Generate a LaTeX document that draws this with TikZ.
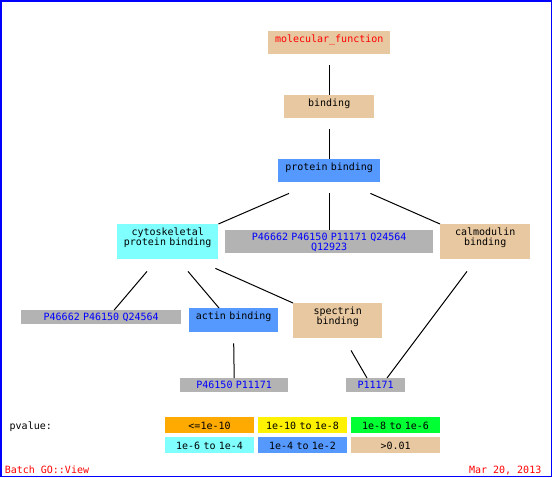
\documentclass[tikz,border=0pt]{standalone}
\usepackage{fontspec}
\setmainfont[WordSpace={1,0,0}]{DejaVu Sans Mono}
\definecolor{tanbox}{RGB}{232,200,160}
\definecolor{bluebox}{RGB}{85,153,255}
\definecolor{cyanbox}{RGB}{128,255,255}
\definecolor{graybox}{RGB}{179,179,179}
\definecolor{orangebox}{RGB}{255,170,0}
\definecolor{greenbox}{RGB}{0,255,51}
\definecolor{frameblue}{RGB}{0,0,255}
\tikzstyle{box} = [rectangle, anchor=north west, inner sep=0pt, align=center, font=\fontsize{10}{10}\selectfont, text height=11pt]
\tikzstyle{one} = [box, text depth=12pt]
\tikzstyle{two} = [box, text depth=24pt]
\tikzstyle{ids} = [box, fill=graybox, text=blue, text height=10.7pt, text depth=3.3pt]
\tikzstyle{key} = [box, text height=12.5pt, text depth=3.5pt, text width=88.7pt]
\tikzstyle{plain} = [inner sep=0pt, font=\fontsize{10}{10}\selectfont]
\tikzstyle{edge} = [line width=1pt]

\begin{document}
\begin{tikzpicture}[x=1pt, y=-1pt]
	
	\useasboundingbox (0,0) rectangle (552,477);
	\draw[frameblue, line width=1.5pt] (0.75,0.75) rectangle (551.25,476.25);
	
	\node[one, fill=tanbox, text=red, text width=122pt] (mf) at (268,31) {molecular\_function};
	\node[one, fill=tanbox, text width=90pt] (bind) at (284,95) {binding};
	\node[one, fill=bluebox, text width=102pt] (prot) at (278,159) {protein binding};
	\node[two, fill=cyanbox, text width=101pt] (cyto) at (117,224) {cytoskeletal\\protein binding};
	\node[ids, text depth=12.3pt, text width=208pt] (gprot) at (225,230) {P46662 P46150 P11171 Q24564\\Q12923};
	\node[two, fill=tanbox, text width=90pt] (calm) at (440,224) {calmodulin\\binding};
	\node[ids, text width=160pt] (gcyto) at (21,310) {P46662 P46150 Q24564};
	\node[one, fill=bluebox, text width=89pt, text depth=13pt] (actin) at (189,308) {actin binding};
	\node[two, fill=tanbox, text width=89pt] (spec) at (293,303) {spectrin\\binding};
	\node[ids, text width=108pt] (gactin) at (180,378) {P46150 P11171};
	\node[ids, text width=59pt] (gcalm) at (346,378) {P11171};
	
	\draw[edge] ([shift={(0,11)}]mf.south) -- (bind.north);
	\draw[edge] ([shift={(0,11)}]bind.south) -- (prot.north);
	\draw[edge] ([shift={(11,11)}]prot.south west) -- (cyto.north east);
	\draw[edge] ([shift={(0,11)}]prot.south) -- (gprot.north);
	\draw[edge] ([shift={(-10,11)}]prot.south east) -- (calm.north west);
	\draw[edge] ([shift={(30,12)}]cyto.south west) -- ([shift={(13,0)}]gcyto.north);
	\draw[edge] ([shift={(71,12)}]cyto.south west) -- ([shift={(30,0)}]actin.north west);
	\draw[edge] ([shift={(-3,9)}]cyto.south east) -- (spec.north west);
	\draw[edge] ([shift={(0,11)}]actin.south) -- (gactin.north);
	\draw[edge] ([shift={(58,12)}]spec.south west) -- ([shift={(21,0)}]gcalm.north west);
	\draw[edge] ([shift={(27,12)}]calm.south west) -- ([shift={(41,0)}]gcalm.north west);
	
	% legend
	\node[plain, anchor=base west] (pval) at (9.5,429) {pvalue:};
	\node[key, fill=orangebox] (k1) at (165,417) {<=1e-10};
	\node[key, fill=yellow] (k2) at (258,417) {1e-10 to 1e-8};
	\node[key, fill=greenbox] (k3) at (351,417) {1e-8 to 1e-6};
	\node[key, fill=cyanbox] (k4) at (165,437) {1e-6 to 1e-4};
	\node[key, fill=bluebox] (k5) at (258,437) {1e-4 to 1e-2};
	\node[key, fill=tanbox] (k6) at (351,437) {>0.01};
	
	\node[plain, anchor=base west, text=red] (batch) at (4.6,473) {Batch GO::View};
	\node[plain, anchor=base east, text=red] (date) at (541.5,473) {Mar 20, 2013};
\end{tikzpicture}
\end{document}
